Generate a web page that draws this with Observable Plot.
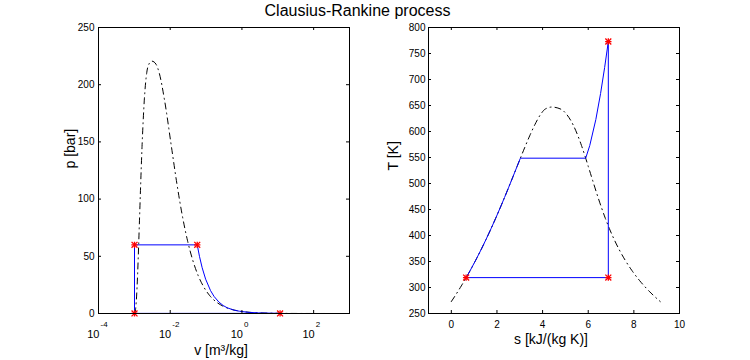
<!DOCTYPE html>
<html>
<head>
<meta charset="utf-8">
<script src="https://cdn.jsdelivr.net/npm/d3@7"></script>
<script src="https://cdn.jsdelivr.net/npm/@observablehq/plot@0.6"></script>
<style>
  html, body { margin: 0; padding: 0; background: white; }
  #wrap { position: relative; width: 750px; height: 360px; background: white; font-family: "Liberation Sans", Arial, sans-serif; }
  #title { position: absolute; left: 0; top: 3px; width: 715px; text-align: center; font-size: 16px; line-height: 16px; color: black; }
  #left, #right { position: absolute; top: 0; width: 375px; height: 360px; }
  #left { left: 0; }
  #right { left: 375px; }
</style>
</head>
<body>
<div id="wrap">
  <div id="left"></div>
  <div id="right"></div>
  <div id="title">Clausius-Rankine process</div>
</div>
<script>
// ---------- p-v diagram data ----------
// saturation dome (liquid line up to critical point, then vapour line), ordered by v
const domeV = [0.001000, 0.001008, 0.001043, 0.001080, 0.001127, 0.001190, 0.001276, 0.001332, 0.001404, 0.001499, 0.001638, 0.001893, 0.002213, 0.00255, 0.003106, 0.0040, 0.004926, 0.006945, 0.01080, 0.01549, 0.02167, 0.03017, 0.04221, 0.05976, 0.08619, 0.1274, 0.1941, 0.3071, 0.5089, 0.8919, 1.672, 3.407, 7.671, 19.52, 57.79, 206.1];
const domeP = [0.006, 0.074, 1.01, 3.61, 10.0, 23.2, 46.9, 64.1, 85.8, 112.7, 145.9, 186.5, 210.4, 218.0, 220.6, 218.0, 210.4, 186.5, 145.9, 112.7, 85.8, 64.1, 46.9, 33.4, 23.2, 15.5, 10.0, 6.18, 3.61, 1.99, 1.01, 0.47, 0.20, 0.074, 0.023, 0.006];
// cycle in p-v
const cycleV = [0.00101, 0.00101, 0.0567, 0.0654, 0.0778, 0.0972, 0.1333, 0.1663, 0.2274, 0.299, 0.387, 0.593, 0.847, 1.56, 2.885, 6.54, 11.6, 0.00101];
const cycleP = [0.1, 60, 60, 50, 40, 30, 20, 15, 10, 7, 5, 3, 2, 1, 0.5, 0.2, 0.1, 0.1];
// state points
const starV = [0.00101, 0.00101, 0.0567, 11.6];
const starP = [0.1, 60, 60, 0.1];
// ticks
const pvTickExps = [-4, -2, 0, 2];
const pvYTicks = [0, 50, 100, 150, 200, 250];

// ---------- T-s diagram data ----------
const domeS = [0, 0.151, 0.2966, 0.4369, 0.5725, 0.7038, 0.8312, 1.0753, 1.3069, 1.5278, 1.7391, 1.9427, 2.1396, 2.3309, 2.5178, 2.7015, 2.8838, 3.0668, 3.2534, 3.448, 3.6594, 3.9147, 4.1106, 4.407, 4.80, 5.053, 5.336, 5.536, 5.705, 5.857, 6.001, 6.143, 6.286, 6.432, 6.586, 6.750, 6.930, 7.130, 7.355, 7.612, 7.909, 8.257, 8.667, 9.156];
const domeT = [273, 283, 293, 303, 313, 323, 333, 353, 373, 393, 413, 433, 453, 473, 493, 513, 533, 553, 573, 593, 613, 633, 643, 647, 643, 633, 613, 593, 573, 553, 533, 513, 493, 473, 453, 433, 413, 393, 373, 353, 333, 313, 293, 273];
const cycS = [0.649, 0.7038, 0.8312, 1.0753, 1.3069, 1.5278, 1.7391, 1.9427, 2.1396, 2.3309, 2.5178, 2.7015, 2.8838, 3.027, 5.889, 6.0674, 6.3335, 6.5408, 6.7193, 6.8803, 6.8803, 0.649];
const cycT = [319, 323, 333, 353, 373, 393, 413, 433, 453, 473, 493, 513, 533, 548.7, 548.7, 573, 623, 673, 723, 773, 319, 319];
const starS = [0.649, 6.8803, 6.8803];
const starT = [319, 773, 319];
const tsXTicks = [0, 2, 4, 6, 8, 10];
const tsYTicks = [250, 300, 350, 400, 450, 500, 550, 600, 650, 700, 750, 800];

// ---------- tables ----------
const pvDome = domeV.map((v, i) => ({v, p: domeP[i]}));
const pvCycle = cycleV.map((v, i) => ({v, p: cycleP[i]}));
const pvStars = starV.map((v, i) => ({v, p: starP[i]}));
const pvXTicks = pvTickExps.map(e => ({x: Math.pow(10, e), e}));
const tsDome = domeS.map((s, i) => ({s, T: domeT[i]}));
const tsCycle = cycS.map((s, i) => ({s, T: cycT[i]}));
const tsStars = starS.map((s, i) => ({s, T: starT[i]}));

const FONT = "'Liberation Sans', Arial, sans-serif";
const BLUE = "#0000ff";
const RED = "#ff0000";
const DASHDOT = "6,4,1,4";
const frameH = 286, frameW = 251, tickLen = 3;

function innerTicks(xt, yt, xacc, yacc) {
  return [
    Plot.tickX(xt, {x: xacc, insetTop: frameH - tickLen, stroke: "black"}),
    Plot.tickX(xt, {x: xacc, insetBottom: frameH - tickLen, stroke: "black"}),
    Plot.tickY(yt, {y: yacc, insetLeft: frameW - tickLen, stroke: "black"}),
    Plot.tickY(yt, {y: yacc, insetRight: frameW - tickLen, stroke: "black"})
  ];
}

function stars(data, x, y) {
  return [
    Plot.dot(data, {x, y, symbol: "plus", r: 2.2, stroke: RED, strokeWidth: 1.3}),
    Plot.dot(data, {x, y, symbol: "times", r: 2.8, stroke: RED, strokeWidth: 1.3})
  ];
}

const left = Plot.plot({
  width: 375, height: 360,
  marginLeft: 98, marginRight: 26, marginTop: 27, marginBottom: 47,
  style: {fontFamily: FONT, fontSize: "10px", background: "white", color: "black", overflow: "visible"},
  x: {type: "log", domain: [1e-4, 1e3], axis: null},
  y: {domain: [0, 250]},
  marks: [
    Plot.line(pvDome, {x: "v", y: "p", stroke: "black", strokeWidth: 1, strokeDasharray: DASHDOT, curve: "monotone-x"}),
    Plot.line(pvCycle, {x: "v", y: "p", stroke: BLUE, strokeWidth: 1}),
    ...stars(pvStars, "v", "p"),
    Plot.frame({stroke: "black"}),
    ...innerTicks(pvXTicks, pvYTicks, d => d.x, d => d),
    Plot.axisY({ticks: pvYTicks, tickSize: 0, tickPadding: 4, label: null, fontSize: 10}),
    Plot.text(pvXTicks, {x: "x", frameAnchor: "bottom", text: () => "10", textAnchor: "end", dx: 1, dy: 24.4, lineAnchor: "bottom", fontSize: 11}),
    Plot.text(pvXTicks, {x: "x", frameAnchor: "bottom", text: d => String(d.e), textAnchor: "start", dx: 2, dy: 13.4, lineAnchor: "bottom", fontSize: 8}),
    Plot.text(["v [m³/kg]"], {frameAnchor: "bottom", text: d => d, dx: -3, dy: 41, lineAnchor: "bottom", fontSize: 14}),
    Plot.text(["p [bar]"], {frameAnchor: "left", text: d => d, rotate: -90, dx: -24, dy: -2, lineAnchor: "bottom", fontSize: 14})
  ]
});
document.getElementById("left").appendChild(left);

const right = Plot.plot({
  width: 375, height: 360,
  marginLeft: 53, marginRight: 71, marginTop: 27, marginBottom: 47,
  style: {fontFamily: FONT, fontSize: "10px", background: "white", color: "black", overflow: "visible"},
  x: {domain: [-1, 10]},
  y: {domain: [250, 800]},
  marks: [
    Plot.line(tsDome, {x: "s", y: "T", stroke: "black", strokeWidth: 1, strokeDasharray: DASHDOT, curve: "monotone-x"}),
    Plot.line(tsCycle, {x: "s", y: "T", stroke: BLUE, strokeWidth: 1}),
    ...stars(tsStars, "s", "T"),
    Plot.frame({stroke: "black"}),
    ...innerTicks(tsXTicks, tsYTicks, d => d, d => d),
    Plot.axisX({ticks: tsXTicks, tickSize: 0, tickPadding: 7, label: null, fontSize: 10}),
    Plot.axisY({ticks: tsYTicks, tickSize: 0, tickPadding: 3, label: null, fontSize: 10}),
    Plot.text(["s [kJ/(kg K)]"], {frameAnchor: "bottom", text: d => d, dx: -3, dy: 30, lineAnchor: "bottom", fontSize: 14}),
    Plot.text(["T [K]"], {frameAnchor: "left", text: d => d, rotate: -90, dx: -30.5, lineAnchor: "bottom", fontSize: 14})
  ]
});
document.getElementById("right").appendChild(right);
</script>
</body>
</html>
